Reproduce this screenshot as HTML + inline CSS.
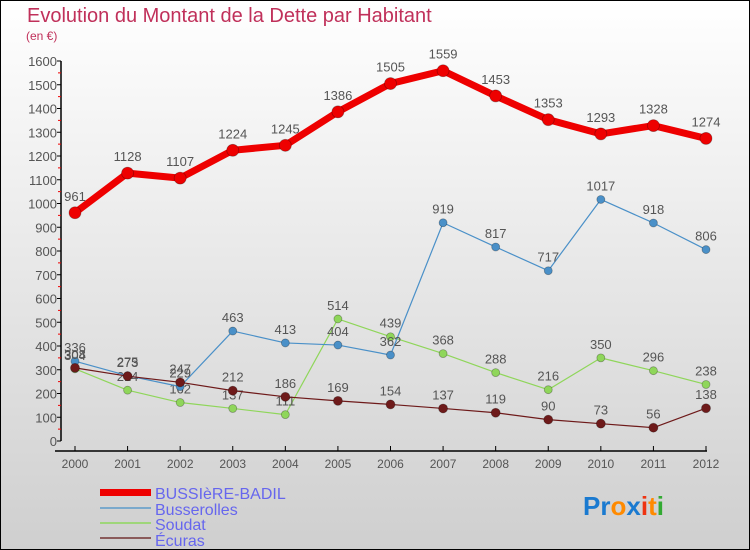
<!DOCTYPE html>
<html><head><meta charset="utf-8">
<style>
body{margin:0}
#c{width:750px;height:550px;position:relative;background:linear-gradient(#ffffff,#cfcfcf);box-sizing:border-box;border:1px solid #000;overflow:hidden;font-family:"Liberation Sans",sans-serif}
</style></head><body>
<div id="c">
<svg id="s" width="750" height="550" style="position:absolute;left:-1px;top:-1px">
<text x="27" y="22" font-size="20" fill="#c0305a">Evolution du Montant de la Dette par Habitant</text>
<text x="26" y="40" font-size="12" fill="#c0305a">(en €)</text>
<g id="ax"></g><g id="series"></g>
<g>
<rect x="100" y="489" width="51" height="7" fill="#e00"/>
<text x="155" y="499" font-size="16" fill="#6666ee">BUSSIèRE-BADIL</text>
<rect x="100" y="507" width="51" height="2" fill="#7aa9cc"/>
<text x="155" y="515" font-size="16" fill="#6666ee">Busserolles</text>
<rect x="100" y="522" width="51" height="2" fill="#9fd67a"/>
<text x="155" y="530" font-size="16" fill="#6666ee">Soudat</text>
<rect x="100" y="537" width="51" height="2" fill="#8a5a5a"/>
<text x="155" y="546" font-size="16" fill="#6666ee">Écuras</text>
</g>
<text x="583" y="515" font-size="26" font-weight="bold"><tspan fill="#1a7ad0">Pr</tspan><tspan fill="#ff8a00">o</tspan><tspan fill="#1a7ad0">x</tspan><tspan fill="#ee3311">i</tspan><tspan fill="#ff8a00">t</tspan><tspan fill="#33aa33">i</tspan></text>
</svg>
</div>
<script>
const years=[2000,2001,2002,2003,2004,2005,2006,2007,2008,2009,2010,2011,2012];
const yTicks=[0,100,200,300,400,500,600,700,800,900,1000,1100,1200,1300,1400,1500,1600];
const bussiere=[961,1128,1107,1224,1245,1386,1505,1559,1453,1353,1293,1328,1274];
const busserolles=[336,275,229,463,413,404,362,919,817,717,1017,918,806];
const soudat=[304,214,162,137,111,514,439,368,288,216,350,296,238];
const ecuras=[308,273,247,212,186,169,154,137,119,90,73,56,138];
const NS="http://www.w3.org/2000/svg";
const X=i=>75+i*(631/12);
const Y=v=>441-v*(380/1600);
function mk(t,a,p){const e=document.createElementNS(NS,t);for(const k in a)e.setAttribute(k,a[k]);p.appendChild(e);return e;}
const ax=document.getElementById('ax');
mk('line',{x1:61,y1:Y(1600),x2:61,y2:Y(0),stroke:'#000','stroke-width':1.5},ax);
mk('line',{x1:55,y1:451,x2:707,y2:451,stroke:'#000','stroke-width':1.5},ax);
yTicks.forEach(v=>{
  mk('line',{x1:57,y1:Y(v),x2:61,y2:Y(v),stroke:'#000'},ax);
  if(v<1600){mk('line',{x1:58,y1:Y(v+50),x2:61,y2:Y(v+50),stroke:'#e00'},ax);}
  const t=mk('text',{x:57,y:Y(v)+5,'font-size':13,fill:'#555','text-anchor':'end'},ax);t.textContent=v;
  
  
});
years.forEach((y,i)=>{
  mk('line',{x1:X(i),y1:446,x2:X(i),y2:451,stroke:'#000'},ax);
  const t=mk('text',{x:X(i),y:468,'font-size':12,fill:'#555','text-anchor':'middle'},ax);t.textContent=y;
  
  
});
const sg=document.getElementById('series');
function draw(vals,color,w,r,name,dy){
  const g=mk('g',{},sg);
  
  
  const pl=mk('polyline',{points:vals.map((v,i)=>X(i)+','+Y(v)).join(' '),fill:'none',stroke:color,'stroke-width':w,'stroke-linejoin':'round'},g);
  
  
  vals.forEach((v,i)=>{
    const c=mk('circle',{cx:X(i),cy:Y(v),r:r,fill:color,stroke:'rgba(0,0,0,0.3)','stroke-width':0.8},g);
    
    
    const t=mk('text',{x:X(i),y:Y(v)-dy,'font-size':13,fill:'#555','text-anchor':'middle'},g);t.textContent=v;
    
    
  });
}
draw(soudat,'#8fd65a',1.2,4,'soudat',9);
draw(busserolles,'#4a90c8',1.2,4,'busserolles',9);
draw(ecuras,'#6e1a1a',1.2,4.5,'ecuras',9);
draw(bussiere,'#ee0000',7,6,'bussiere',12);
</script>
</body></html>
